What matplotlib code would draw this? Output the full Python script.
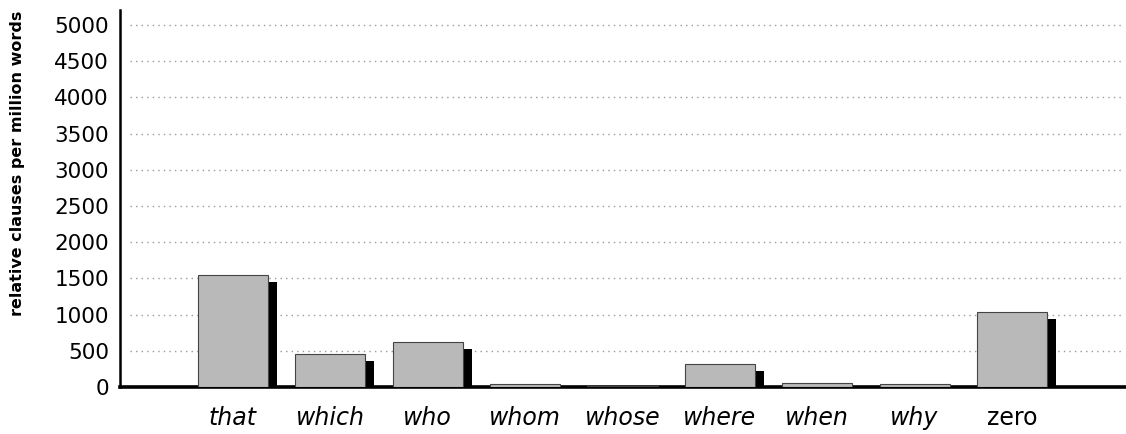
import matplotlib.pyplot as plt
import numpy as np

pronouns = ["that", "which", "who", "whom", "whose", "where", "when", "why", "zero"]
clauses = [1550, 460, 620, 40, 12, 320, 50, 40, 1040]
y_ticks = [0, 500, 1000, 1500, 2000, 2500, 3000, 3500, 4000, 4500, 5000]

fig = plt.figure(figsize=(11.26, 4.34), dpi=100)
ax = fig.add_axes([120 / 1126, 47 / 434, 1006 / 1126, 377 / 434])

x = np.arange(len(pronouns))
w = 0.72
ymax = 5207

# black drop shadow sitting a little right and down of each bar
px = 1 / 97.4
py = ymax / 377
shadow = [max(v - 7 * py, 0) for v in clauses]
ax.bar(x + 9 * px, shadow, width=w, color="black", zorder=2)
ax.bar(x, clauses, width=w, color="#b9b9b9", edgecolor="#444444",
       linewidth=0.8, zorder=3)

# dotted grid
ax.hlines(y_ticks[1:], -1.06, 9.13, colors="#999999", linestyles=(0, (1, 3)),
          linewidth=1.0, zorder=1)

ax.set_xlim(-1.16, 9.17)
ax.set_ylim(0, ymax)
ax.set_yticks(y_ticks)
ax.set_yticklabels([str(t) for t in y_ticks], fontsize=15.5)
ax.set_xticks(x)
ax.set_xticklabels(pronouns, fontsize=17)
for lbl in ax.get_xticklabels():
    if lbl.get_text() != "zero":
        lbl.set_style("italic")
ax.tick_params(length=0, pad=8)
ax.tick_params(axis="x", pad=14)

for s in ["top", "right"]:
    ax.spines[s].set_visible(False)
ax.spines["left"].set_linewidth(1.8)
ax.spines["bottom"].set_linewidth(2.6)

fig.text(18 / 1126, 1 - 163 / 434, "relative clauses per million words",
         rotation=90, ha="center", va="center", fontsize=11.5, fontweight="bold")

fig.savefig("out.png", dpi=100)
